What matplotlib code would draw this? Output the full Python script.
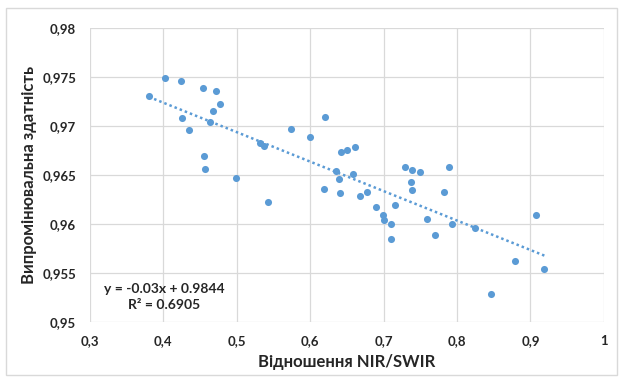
import numpy as np
import matplotlib
matplotlib.use('Agg')
import matplotlib.pyplot as plt
from matplotlib.ticker import FuncFormatter
from matplotlib.patches import Rectangle

# NIR/SWIR ratio vs emissivity
ratio = [0.3805, 0.4017, 0.4235, 0.4534, 0.4724, 0.4768, 0.468, 0.4256, 0.4632, 0.4354,
         0.455, 0.4566, 0.4996, 0.5426, 0.5322, 0.5366, 0.5736, 0.5991, 0.6198, 0.6416,
         0.6497, 0.6617, 0.6345, 0.6394, 0.6187, 0.6405, 0.6584, 0.6677, 0.6775, 0.6894,
         0.6987, 0.7003, 0.7106, 0.7096, 0.715, 0.7291, 0.7389, 0.7498, 0.7373, 0.7389,
         0.7596, 0.7705, 0.7824, 0.7895, 0.7933, 0.8243, 0.8461, 0.8787, 0.9075, 0.919]
emiss = [0.9731, 0.9749, 0.9746, 0.9739, 0.9736, 0.9723, 0.9716, 0.9708, 0.9704, 0.9696,
         0.967, 0.9656, 0.9647, 0.9623, 0.9683, 0.968, 0.9697, 0.9689, 0.9709, 0.9674,
         0.9676, 0.9679, 0.9654, 0.9646, 0.9636, 0.9632, 0.9651, 0.9629, 0.9633, 0.9618,
         0.961, 0.9604, 0.96, 0.9585, 0.962, 0.9658, 0.9655, 0.9653, 0.9643, 0.9635,
         0.9605, 0.9589, 0.9633, 0.9658, 0.96, 0.9596, 0.9529, 0.9563, 0.9609, 0.9554]

eq_text = 'y = -0.03x + 0.9844\nR² = 0.6905'
x_label = 'Відношення NIR/SWIR'
y_label = 'Випромінювальна здатність'

blue = '#5B9BD5'
dark = '#262626'
plt.rcParams['font.family'] = ['Lato', 'DejaVu Sans']

fig = plt.figure(figsize=(6.2, 3.77), dpi=100)
ax = fig.add_axes([0.145, 0.145, 0.829, 0.78])

x = np.array(ratio)
y = np.array(emiss)
ax.scatter(x, y, s=26, color=blue, zorder=3, linewidths=0)

# linear trendline
k, b = np.polyfit(x, y, 1)
xs = np.array([x.min(), x.max()])
ax.plot(xs, k * xs + b, linestyle=(0, (1, 1.2)), color=blue, lw=1.8, zorder=2)

ax.set_xlim(0.3, 1.0)
ax.set_ylim(0.95, 0.98)
ax.set_xticks(np.arange(0.3, 1.01, 0.1))
ax.set_yticks(np.arange(0.95, 0.9801, 0.005))
fmt = FuncFormatter(lambda v, p: f'{round(v, 4):g}'.replace('.', ','))
ax.xaxis.set_major_formatter(fmt)
ax.yaxis.set_major_formatter(fmt)
ax.tick_params(length=0, labelsize=9.5, colors=dark)
ax.tick_params(axis='x', pad=9)
ax.tick_params(axis='y', pad=10)
for t in ax.get_xticklabels() + ax.get_yticklabels():
    t.set_fontweight('bold')

ax.grid(True, color='#D9D9D9', lw=0.9)
ax.set_axisbelow(True)
for s in ax.spines.values():
    s.set_visible(False)

ax.set_xlabel(x_label, fontsize=12, fontweight='bold', color=dark, labelpad=5)
ax.set_ylabel(y_label, fontsize=12, fontweight='bold', color=dark, labelpad=4)

ax.text(0.401, 0.9526, eq_text, ha='center', va='center', fontsize=10,
        fontweight='bold', color=dark, linespacing=1.4)

fig.add_artist(Rectangle((0.01, 0.005), 0.985, 0.975, transform=fig.transFigure,
                         fill=False, edgecolor='#D9D9D9', lw=1))

fig.savefig('out.png', dpi=100)
